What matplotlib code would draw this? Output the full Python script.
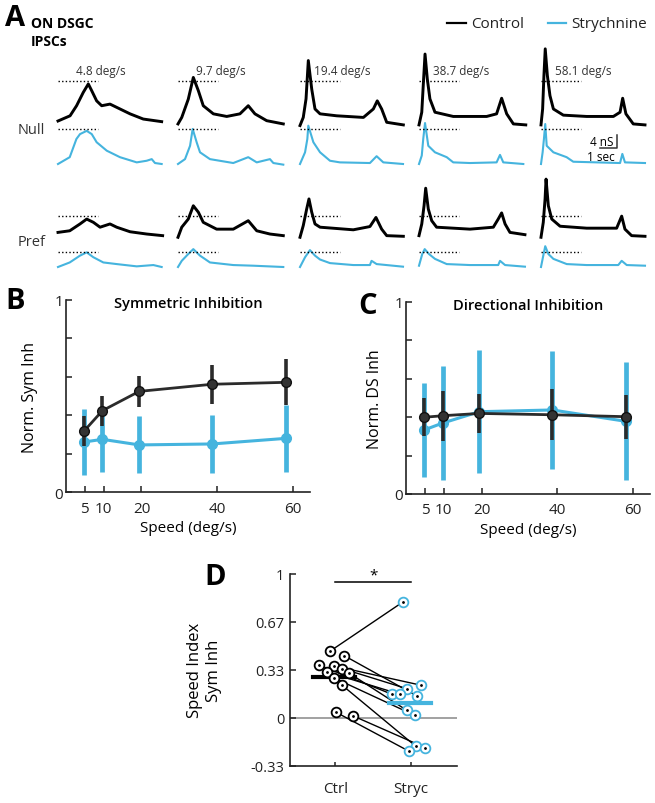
import matplotlib
matplotlib.use('Agg')
import matplotlib.pyplot as plt
from matplotlib.lines import Line2D
import numpy as np

plt.rcParams['font.family'] = ['Open Sans', 'DejaVu Sans']

BLUE = '#45B4DE'
DARK = '#2b2b2b'

# ---------------- panel A: IPSC traces (time in s, conductance in nS above baseline)
speed_labels = ['4.8 deg/s', '9.7 deg/s', '19.4 deg/s', '38.7 deg/s', '58.1 deg/s']

null_ctrl_t = [[0, 0.74, 1.14, 1.55, 1.86, 2.07, 2.37, 2.68, 3.19, 3.6, 4.42, 5.23, 6.36],
               [0, 0.23, 0.63, 0.94, 1.25, 1.55, 2.17, 2.99, 3.8, 4.31, 4.72, 5.44, 6.46],
               [0, 0.2, 0.37, 0.51, 0.72, 0.92, 1.23, 2.25, 3.89, 4.5, 4.74, 5.01, 5.32, 6.34],
               [0, 0.17, 0.26, 0.37, 0.51, 0.67, 0.98, 2.1, 4.15, 4.76, 5.07, 5.38, 5.79, 6.55],
               [0, 0.1, 0.18, 0.26, 0.39, 0.55, 0.76, 1.37, 2.8, 4.44, 4.85, 5.01, 5.21, 5.66, 6.38]]
null_ctrl_v = [[0, 1.6, 4.7, 8.8, 11.4, 9.3, 6.2, 4.7, 5.2, 4.2, 2.2, 0.6, -0.2],
               [-0.9, 1.1, 6.7, 13.4, 9.3, 4.7, 2.2, 1.4, 2.2, 4.7, 2.2, 0.1, -0.9],
               [-1.4, 1.1, 6.8, 18.6, 9.8, 3.7, 2.2, 1.6, 1.1, 3.7, 6.2, 3.7, -0.4, -1.2],
               [-1.2, 2.7, 10.9, 20.6, 12.9, 6.8, 2.7, 1.4, 1.4, 2.2, 7.0, 2.2, -0.9, -1.2],
               [-1.2, 3.7, 14.0, 22.2, 14.0, 7.8, 3.7, 1.8, 1.4, 1.4, 2.7, 7.0, 2.2, -0.9, -1.2]]

null_str_t = [[0, 0.72, 1.13, 1.35, 1.76, 2.07, 2.37, 2.99, 3.8, 4.83, 5.44, 5.75, 5.95, 6.36],
              [0, 0.43, 0.74, 0.9, 1.15, 1.35, 1.96, 3.39, 4.31, 4.83, 5.64, 5.85, 6.46],
              [0, 0.31, 0.45, 0.51, 0.82, 1.23, 1.84, 2.45, 4.29, 4.7, 5.11, 6.32],
              [0, 0.17, 0.26, 0.37, 0.57, 0.98, 1.7, 2.1, 3.13, 4.76, 4.97, 5.17, 6.4],
              [0, 0.1, 0.18, 0.26, 0.35, 0.76, 1.57, 1.98, 4.85, 4.99, 5.15, 6.38]]
null_str_v = [[0, 2.1, 7.7, 9.2, 10.2, 9.2, 6.7, 4.1, 2.1, 0.5, 1.0, 1.5, 0.3, 0],
              [0, 1.5, 5.6, 10.8, 6.6, 3.6, 1.5, 0.3, 2.1, 0.5, 1.5, 0.3, -0.2],
              [0, 3.6, 7.7, 11.8, 6.7, 3.6, 1.0, 0.5, 0.3, 2.4, 0.5, 0],
              [0, 2.6, 7.7, 12.6, 5.6, 3.6, 2.1, 0.5, 0.3, 0.5, 2.8, 0.5, 0],
              [0, 3.6, 7.7, 12.3, 5.6, 3.6, 2.1, 0.7, 0.3, 3.1, 0.5, 0.3]]

pref_ctrl_t = [[0, 0.72, 1.35, 1.76, 2.17, 2.58, 3.19, 3.6, 4.42, 5.44, 6.42],
               [0, 0.23, 0.63, 0.94, 1.25, 1.55, 2.37, 3.39, 4.31, 4.83, 5.64, 6.46],
               [0, 0.2, 0.41, 0.55, 0.72, 0.92, 1.23, 3.27, 4.29, 4.66, 5.01, 5.32, 6.34],
               [0, 0.17, 0.31, 0.41, 0.57, 0.78, 1.08, 3.13, 4.56, 4.86, 5.07, 5.28, 5.58, 6.5],
               [0, 0.14, 0.25, 0.31, 0.45, 0.66, 1.17, 2.8, 4.64, 4.95, 5.15, 5.56, 6.38]]
pref_ctrl_v = [[0.8, 1.3, 3.4, 4.9, 3.9, 2.4, 3.4, 2.4, 1.0, 0.3, -0.2],
               [-0.7, 2.4, 4.9, 9.0, 7.0, 3.9, 1.8, 1.8, 4.4, 1.3, 0.3, -0.2],
               [-0.7, 2.9, 8.0, 11.1, 7.0, 3.4, 2.4, 1.6, 2.6, 5.4, 1.8, -0.2, -0.4],
               [-0.2, 3.4, 9.0, 14.4, 8.0, 4.4, 2.4, 1.8, 2.4, 4.9, 6.8, 3.4, 0.8, 0.1],
               [-0.7, 3.9, 11.1, 17.2, 9.0, 4.9, 2.7, 2.1, 2.1, 5.8, 1.8, -0.2, -0.4]]

pref_str_t = [[0, 0.72, 1.35, 1.76, 2.17, 2.78, 3.6, 4.83, 5.85, 6.36],
              [0, 0.23, 0.63, 0.94, 1.35, 1.96, 3.39, 4.62, 6.46],
              [0, 0.31, 0.61, 0.92, 1.23, 1.84, 3.27, 4.29, 4.39, 4.7, 6.32],
              [0, 0.2, 0.35, 0.61, 0.98, 1.7, 3.13, 4.86, 4.97, 5.28, 6.5],
              [0, 0.14, 0.26, 0.45, 0.76, 1.58, 2.8, 4.74, 4.95, 5.26, 6.38]]
pref_str_v = [[0, 1.4, 3.5, 4.5, 3.0, 1.4, 0.9, 0.2, 0.6, 0],
              [0, 1.9, 4.0, 5.5, 3.5, 1.4, 0.6, 0.4, 0],
              [0, 3.0, 5.2, 3.5, 2.3, 1.2, 0.6, 0.6, 1.9, 0.9, 0.1],
              [0.4, 4.0, 5.5, 4.0, 2.5, 0.9, 0.6, 0.6, 1.9, 0.6, 0.1],
              [0, 3.5, 6.4, 4.0, 2.5, 0.9, 0.6, 0.6, 1.9, 0.6, 0.4]]

# dotted reference levels (nS) for each row
ref_levels = [12.3, 10.9, 5.75, 4.7]

# ---------------- panels B, C
speeds = [4.8, 9.7, 19.4, 38.7, 58.1]
sym_ctrl = [0.317, 0.424, 0.524, 0.561, 0.571]
sym_ctrl_err = [0.078, 0.078, 0.080, 0.102, 0.119]
sym_str = [0.261, 0.275, 0.246, 0.251, 0.280]
sym_str_err = [0.170, 0.168, 0.148, 0.152, 0.173]
ds_ctrl = [0.399, 0.407, 0.419, 0.412, 0.402]
ds_ctrl_err = [0.099, 0.130, 0.102, 0.132, 0.114]
ds_str = [0.333, 0.369, 0.428, 0.437, 0.378]
ds_str_err = [0.244, 0.297, 0.319, 0.306, 0.307]

# ---------------- panel D (paired cells)
ctrl_si = [0.462, 0.431, 0.365, 0.361, 0.342, 0.319, 0.312, 0.278, 0.226, 0.037, 0.014]
ctrl_jit = [-0.075, 0.119, -0.211, -0.022, 0.089, -0.110, 0.176, -0.022, 0.089, 0.013, 0.229]
stryc_si = [0.805, 0.153, 0.164, 0.226, 0.203, 0.164, 0.053, 0.016, -0.197, -0.232, -0.208]
stryc_jit = [-0.111, 0.070, -0.256, 0.132, -0.062, -0.151, -0.062, 0.048, 0.057, -0.032, 0.185]

W, H = 655, 804
fig = plt.figure(figsize=(W / 100, H / 100), dpi=100)


def box(l, t, r, b):
    return [l / W, 1 - b / H, (r - l) / W, (b - t) / H]


# ================= A
px_s, px_ns = 16.3, 3.25
axA = fig.add_axes(box(50, 40, 650, 275))
axA.axis('off')
axA.set_xlim(-8 / px_s, 592 / px_s)
axA.set_ylim(0, 235 / px_ns)
col_off = [(x - 58) / px_s for x in [58, 178, 300, 419, 541]]
row_base = [(275 - y) / px_ns for y in [122, 165, 236, 268]]
rows = [(null_ctrl_t, null_ctrl_v, 'black', 2.1),
        (null_str_t, null_str_v, BLUE, 1.5),
        (pref_ctrl_t, pref_ctrl_v, 'black', 2.1),
        (pref_str_t, pref_str_v, BLUE, 1.5)]
for r, (ts, vs, c, lw) in enumerate(rows):
    for k in range(5):
        axA.plot(np.array(ts[k]) + col_off[k], np.array(vs[k]) + row_base[r],
                 color=c, lw=lw, solid_joinstyle='round')
        yref = row_base[r] + ref_levels[r]
        axA.plot([col_off[k], col_off[k] + 2.45], [yref, yref], color='black',
                 lw=1.0, ls=(0, (1, 1.6)))
for k in range(5):
    axA.text(col_off[k] + 2.6, (275 - 71) / px_ns, speed_labels[k], ha='center',
             va='center', fontsize=8.5, color='#333333')

# scale bar 4 nS / 1 sec
sx = (616.5 - 58) / px_s
sy = (275 - 149.3) / px_ns
axA.plot([sx - 1, sx, sx], [sy, sy, sy + 4], color='#333333', lw=1.1)
axA.text(sx - 0.2, sy + 2.2, '4 nS', ha='right', va='center', fontsize=8.5)
axA.text(sx - 0.95, sy - 0.4, '1 sec', ha='center', va='top', fontsize=8.5)

fig.text(5 / W, 1 - 18 / H, 'A', fontsize=21, fontweight='bold', va='center')
fig.text(31 / W, 1 - 24 / H, 'ON DSGC', fontsize=10, fontweight='bold', va='center')
fig.text(31 / W, 1 - 42 / H, 'IPSCs', fontsize=10, fontweight='bold', va='center')
fig.text(18 / W, 1 - 130 / H, 'Null', fontsize=10.5, va='center', color='#333333')
fig.text(18 / W, 1 - 242 / H, 'Pref', fontsize=10.5, va='center', color='#333333')

# legend drawn by hand so the two entries sit where they do in the figure
for (x0, x1, xt), c, lab in [((447, 466, 471), 'black', 'Control'),
                             ((548, 566, 571), BLUE, 'Strychnine')]:
    fig.add_artist(Line2D([x0 / W, x1 / W], [1 - 24 / H] * 2, color=c, lw=1.6))
    fig.text(xt / W, 1 - 24 / H, lab, fontsize=11, va='center', color='#222222')


# ================= B, C
def style(ax):
    for s in ['top', 'right']:
        ax.spines[s].set_visible(False)
    for s in ['left', 'bottom']:
        ax.spines[s].set_linewidth(1.2)
        ax.spines[s].set_color('#222222')
    ax.tick_params(direction='in', length=4, width=1.1, colors='#222222')


def speed_panel(ax, ctrl, ctrl_err, strych, strych_err, title, ylabel):
    ax.errorbar(speeds, strych, yerr=strych_err, color=BLUE, lw=2.2, elinewidth=3.4,
                marker='o', ms=7, capsize=0, zorder=2)
    ax.errorbar(speeds, ctrl, yerr=ctrl_err, color=DARK, lw=2.0, elinewidth=2.6,
                marker='o', ms=7, mfc='#333333', mec='#111111', capsize=0, zorder=3)
    ax.set_xlim(0, 64.5)
    ax.set_ylim(0, 1)
    ax.set_xticks([5, 10, 20, 40, 60])
    ax.set_yticks([0, 0.2, 0.4, 0.6, 0.8, 1])
    ax.set_yticklabels(['0', '', '', '', '', '1'])
    style(ax)
    ax.tick_params(axis='x', labelsize=11, pad=6)
    ax.tick_params(axis='y', labelsize=11, pad=2)
    ax.set_xlabel('Speed (deg/s)', fontsize=11)
    ax.xaxis.set_label_coords(0.5, -0.145)
    ax.set_ylabel(ylabel, fontsize=11.5)
    ax.text(0.5, 0.985, title, transform=ax.transAxes, ha='center', va='center',
            fontsize=10.5, fontweight='semibold')


axB = fig.add_axes(box(65.7, 300.7, 310, 493.3))
speed_panel(axB, sym_ctrl, sym_ctrl_err, sym_str, sym_str_err,
            'Symmetric Inhibition', 'Norm. Sym Inh')
axB.yaxis.set_label_coords(-0.115, 0.495)
axC = fig.add_axes(box(406, 302.7, 650, 495))
speed_panel(axC, ds_ctrl, ds_ctrl_err, ds_str, ds_str_err,
            'Directional Inhibition', 'Norm. DS Inh')
axC.yaxis.set_label_coords(-0.094, 0.5)

fig.text(5 / W, 1 - 302 / H, 'B', fontsize=21, fontweight='bold', va='center')
fig.text(358 / W, 1 - 307 / H, 'C', fontsize=21, fontweight='bold', va='center')

# ================= D
axD = fig.add_axes(box(290, 575, 456.7, 766.7))
axD.axhline(0, color='#9a9a9a', lw=1.3, zorder=0)
xc = 1 + np.array(ctrl_jit)
xs = 2 + np.array(stryc_jit)
for i in range(len(ctrl_si)):
    axD.plot([xc[i], xs[i]], [ctrl_si[i], stryc_si[i]], color='black', lw=1.0, zorder=1)
axD.plot([0.71, 1.26], [np.mean(ctrl_si)] * 2, color='black', lw=3, zorder=2)
axD.plot([1.70, 2.26], [np.mean(stryc_si)] * 2, color=BLUE, lw=3, zorder=2)
axD.plot(xc, ctrl_si, 'o', ms=7, mfc='white', mec='black', mew=1.3, zorder=3)
axD.plot(xs, stryc_si, 'o', ms=7, mfc='white', mec=BLUE, mew=1.3, zorder=3)
axD.plot(xc, ctrl_si, '.', ms=2, color='black', zorder=4)
axD.plot(xs, stryc_si, '.', ms=2, color='black', zorder=4)
axD.plot([1, 2], [0.942, 0.942], color='black', lw=1.1)
axD.text(1.5, 0.99, '*', ha='center', va='center', fontsize=11)
axD.set_xlim(0.4, 2.6)
axD.set_ylim(-1 / 3, 1)
axD.set_xticks([1, 2])
axD.set_xticklabels(['Ctrl', 'Stryc'])
axD.set_yticks([-1 / 3, 0, 1 / 3, 2 / 3, 1])
axD.set_yticklabels(['-0.33', '0', '0.33', '0.67', '1'])
style(axD)
axD.tick_params(axis='x', labelsize=11, pad=11, length=3)
axD.tick_params(axis='y', labelsize=10.5, pad=4)
axD.set_ylabel('Speed Index\nSym Inh', fontsize=12)
axD.yaxis.set_label_coords(-0.41, 0.5)
fig.text(204 / W, 1 - 578 / H, 'D', fontsize=21, fontweight='bold', va='center')

fig.savefig('out.png', dpi=100)
